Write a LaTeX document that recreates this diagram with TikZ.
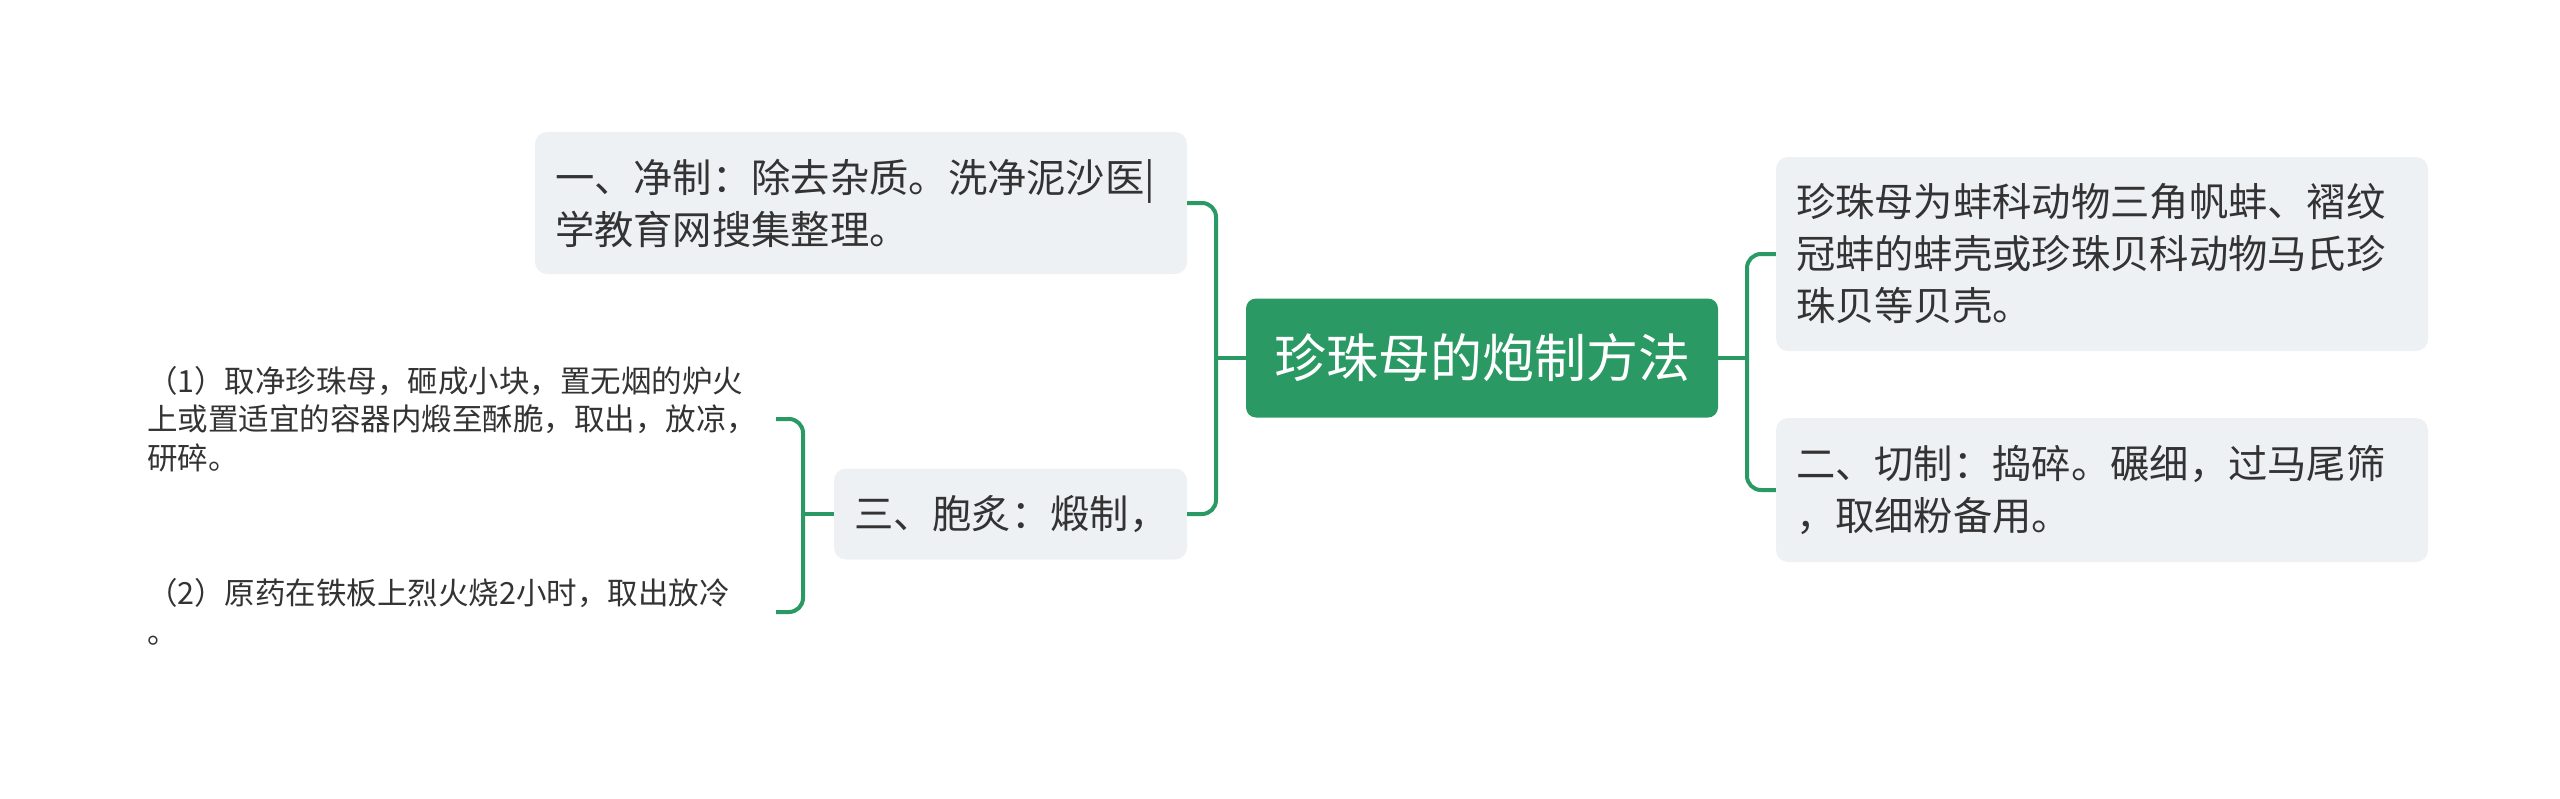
\documentclass[tikz,border=0pt]{standalone}
\usepackage{fontspec}
\setmainfont{Noto Sans CJK SC}
\definecolor{mgreen}{HTML}{2A9964}
\definecolor{boxgray}{HTML}{EEF1F4}
\definecolor{txt}{HTML}{333333}
\begin{document}
\begin{tikzpicture}[x=1pt,y=-1pt,
  conn/.style={draw=mgreen,line width=4pt,rounded corners=14pt},
  rootbox/.style={fill=mgreen,rounded corners=10pt,text=white,font=\fontsize{52}{60}\selectfont,inner sep=0pt},
  topic/.style={fill=boxgray,rounded corners=12pt,text=txt,font=\fontsize{39.3}{52}\selectfont,align=left,inner xsep=20pt,inner ysep=0pt},
  leaf/.style={text=txt,font=\fontsize{30.5}{38.5}\selectfont,align=left,inner sep=0pt}]
\useasboundingbox (0,0) rectangle (2560,798);
\node[rootbox,minimum width=472pt,minimum height=119pt] (root) at (1482,358) {珍珠母的炮制方法};
\node[topic,text width=612pt,minimum height=142pt] (n1) at (861,203) {一、净制：除去杂质。洗净泥沙医|\\学教育网搜集整理。};
\node[topic,text width=313pt,minimum height=91pt] (n3) at (1010.5,514) {三、胞炙：煅制，};
\node[topic,text width=612pt,minimum height=194pt] (nA) at (2102,254) {珍珠母为蚌科动物三角帆蚌、褶纹\\冠蚌的蚌壳或珍珠贝科动物马氏珍\\珠贝等贝壳。};
\node[topic,text width=612pt,minimum height=144pt] (nB) at (2102,490) {二、切制：捣碎。碾细，过马尾筛\\，取细粉备用。};
\node[leaf,text width=629pt] (l1) at (461.5,419) {（1）取净珍珠母，砸成小块，置无烟的炉火\\上或置适宜的容器内煅至酥脆，取出，放凉，\\研碎。};
\node[leaf,text width=629pt] (l2) at (461.5,612) {（2）原药在铁板上烈火烧2小时，取出放冷\\。};
\coordinate (jl) at (1216,358);
\coordinate (jr) at (1747,358);
\coordinate (jb) at (803,514);
\draw[conn] (root.west) -- (jl);
\draw[conn] (n1.east) -| (jl);
\draw[conn] (n3.east) -| (jl);
\draw[conn] (root.east) -- (jr);
\draw[conn] (nA.west) -| (jr);
\draw[conn] (nB.west) -| (jr);
\draw[conn] (n3.west) -- (jb);
\draw[conn] (l1.east) -| (jb);
\draw[conn] (l2.east) -| (jb);
\end{tikzpicture}
\end{document}
